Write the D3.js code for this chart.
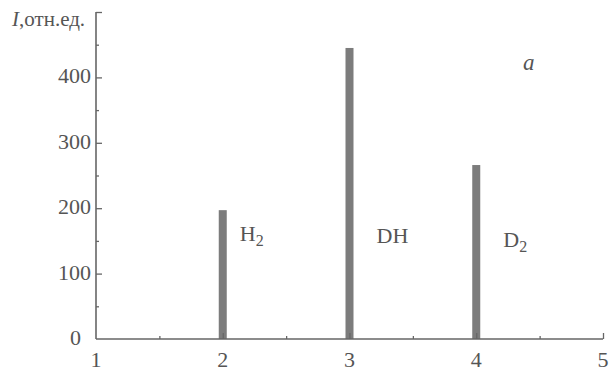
<!DOCTYPE html>
<html>
<head>
<meta charset="utf-8">
<script src="https://cdn.jsdelivr.net/npm/d3@7"></script>
<style>
  body { margin: 0; background: #fff; }
  text { font-family: "Liberation Serif"; }
</style>
</head>
<body>
<svg id="chart"></svg>
<script>
// mass number (x) and relative intensity (y) of each line
const masses = [2, 3, 4];
const intensities = [197, 445, 266];
const species = [["H", "2"], ["DH", ""], ["D", "2"]];
const xTicks = [1, 2, 3, 4, 5];
const yTicks = [0, 100, 200, 300, 400];

const width = 612, height = 372;
const margin = { top: 12, right: 9, bottom: 33, left: 96 };

const svg = d3.select("#chart").attr("width", width).attr("height", height);

const x = d3.scaleLinear().domain([1, 5]).range([margin.left, width - margin.right]);
const y = d3.scaleLinear().domain([0, 500]).range([height - margin.bottom, margin.top]);

const ink = "#666";
const textInk = "#555";

// bars first, axes drawn on top
svg.selectAll(".bar")
  .data(masses)
  .join("rect")
  .attr("class", "bar")
  .attr("x", d => x(d) - 4)
  .attr("width", 8)
  .attr("y", (d, i) => y(intensities[i]))
  .attr("height", (d, i) => y(0) - y(intensities[i]))
  .attr("fill", "#7c7c7c");

// y axis: ticks point inward, minor ticks every 50
const yAxis = d3.axisRight(y).tickValues(d3.range(50, 501, 50)).tickSize(5).tickFormat("");
const yG = svg.append("g").attr("transform", `translate(${x(1)},0)`).call(yAxis);
yG.select(".domain").remove();
yG.selectAll(".tick line")
  .attr("stroke", ink).attr("stroke-width", 1.3)
  .attr("x2", d => d % 100 === 0 ? 6 : 3);

// x axis: ticks point upward, minor ticks every 0.5
const xAxis = d3.axisTop(x).tickValues(d3.range(1.5, 5.01, 0.5)).tickSize(5).tickFormat("");
const xG = svg.append("g").attr("transform", `translate(0,${y(0)})`).call(xAxis);
xG.select(".domain").remove();
xG.selectAll(".tick line")
  .attr("stroke", ink).attr("stroke-width", 1.3)
  .attr("y2", d => d % 1 === 0 ? -6 : -3);

// frame lines
svg.append("line")
  .attr("x1", x(1)).attr("x2", x(1)).attr("y1", y(500)).attr("y2", y(0))
  .attr("stroke", ink).attr("stroke-width", 1.6);
svg.append("line")
  .attr("x1", x(1)).attr("x2", x(5)).attr("y1", y(0)).attr("y2", y(0))
  .attr("stroke", ink).attr("stroke-width", 1.6);

// tick labels
svg.selectAll(".ylab")
  .data(yTicks)
  .join("text")
  .attr("class", "ylab")
  .attr("x", d => d === 0 ? x(1) - 15 : x(1) - 5)
  .attr("y", d => y(d) + 6)
  .attr("text-anchor", "end")
  .attr("fill", textInk)
  .attr("font-size", 22)
  .text(d => d);

svg.selectAll(".xlab")
  .data(xTicks)
  .join("text")
  .attr("class", "xlab")
  .attr("x", d => x(d))
  .attr("y", y(0) + 28)
  .attr("text-anchor", "middle")
  .attr("fill", textInk)
  .attr("font-size", 22)
  .text(d => d);

// axis title
const title = svg.append("text")
  .attr("x", 12).attr("y", 26)
  .attr("fill", textInk)
  .attr("font-size", 21);
title.append("tspan").attr("font-style", "italic").text("I");
title.append("tspan").text(",отн.ед.");

// species labels next to each bar
const labelPos = [[x(2) + 17, 241], [x(3) + 27, 243], [x(4) + 27, 247]];
species.forEach((s, i) => {
  const t = svg.append("text")
    .attr("x", labelPos[i][0]).attr("y", labelPos[i][1])
    .attr("fill", textInk)
    .attr("font-size", 22);
  t.append("tspan").text(s[0]);
  if (s[1]) t.append("tspan").attr("dy", 5).attr("font-size", 16).text(s[1]);
});

// panel letter
svg.append("text")
  .attr("x", 523).attr("y", 70)
  .attr("fill", textInk)
  .attr("font-size", 23)
  .attr("font-style", "italic")
  .text("a");
</script>
</body>
</html>
